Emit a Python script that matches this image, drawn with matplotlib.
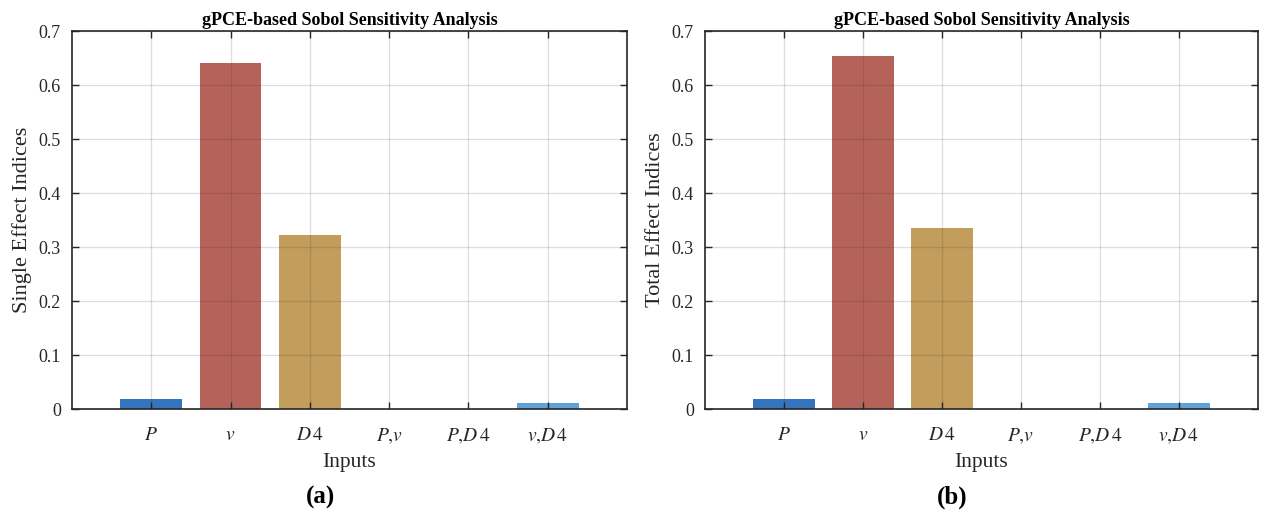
import matplotlib.pyplot as plt

plt.rcParams['font.family'] = ['Liberation Serif', 'DejaVu Serif']
plt.rcParams['mathtext.fontset'] = 'stix'

inputs = [r'$P$', r'$v$', r'$D\,4$', r'$P{,}v$', r'$P{,}D\,4$', r'$v{,}D\,4$']
single_effect = [0.0185, 0.640, 0.322, 0.0004, 0.0003, 0.0115]
total_effect = [0.0190, 0.653, 0.336, 0.0004, 0.0003, 0.0115]
bar_colors = ['#3474BC', '#B5635A', '#C29D5C', '#7E4A8C', '#6E9A3C', '#5FA3D8']

fig = plt.figure(figsize=(12.64, 5.14), dpi=100)
W, H = 1264, 514

panels = [
    (72, 627, single_effect, 'Single Effect Indices', '(a)'),
    (705, 1258, total_effect, 'Total Effect Indices', '(b)'),
]

for x0, x1, vals, ylab, tag in panels:
    ax = fig.add_axes([x0 / W, (H - 409) / H, (x1 - x0) / W, 378 / H])
    pos = list(range(1, len(inputs) + 1))
    ax.bar(pos, vals, width=0.78, color=bar_colors, zorder=1)
    ax.set_xlim(0, 7)
    ax.set_ylim(0, 0.7)
    ax.set_xticks(pos)
    ax.set_xticklabels(inputs, fontsize=14)
    ax.set_yticks([0, 0.1, 0.2, 0.3, 0.4, 0.5, 0.6, 0.7])
    ax.set_yticklabels(['0', '0.1', '0.2', '0.3', '0.4', '0.5', '0.6', '0.7'], fontsize=13)
    ax.set_axisbelow(False)
    ax.grid(True, color='#262626', alpha=0.15, linewidth=0.9, zorder=3)
    ax.tick_params(direction='in', top=True, right=True, length=5, width=1,
                   color='#262626', labelcolor='#262626', pad=8)
    ax.tick_params(axis='x', pad=13)
    for sp in ax.spines.values():
        sp.set_color('#262626')
        sp.set_linewidth(1.2)
        sp.set_zorder(4)
    ax.set_title('gPCE-based Sobol Sensitivity Analysis', fontsize=13,
                 fontweight='bold', pad=4)
    ax.set_xlabel('Inputs', fontsize=15.5, color='#262626', labelpad=5)
    ax.set_ylabel(ylab, fontsize=16, color='#262626', labelpad=5)
    fig.text(((x0 + x1) / 2 - 29) / W, 1 - 497 / H, tag, fontsize=18,
             fontweight='bold', ha='center', va='center')

fig.savefig('out.png', dpi=100)
